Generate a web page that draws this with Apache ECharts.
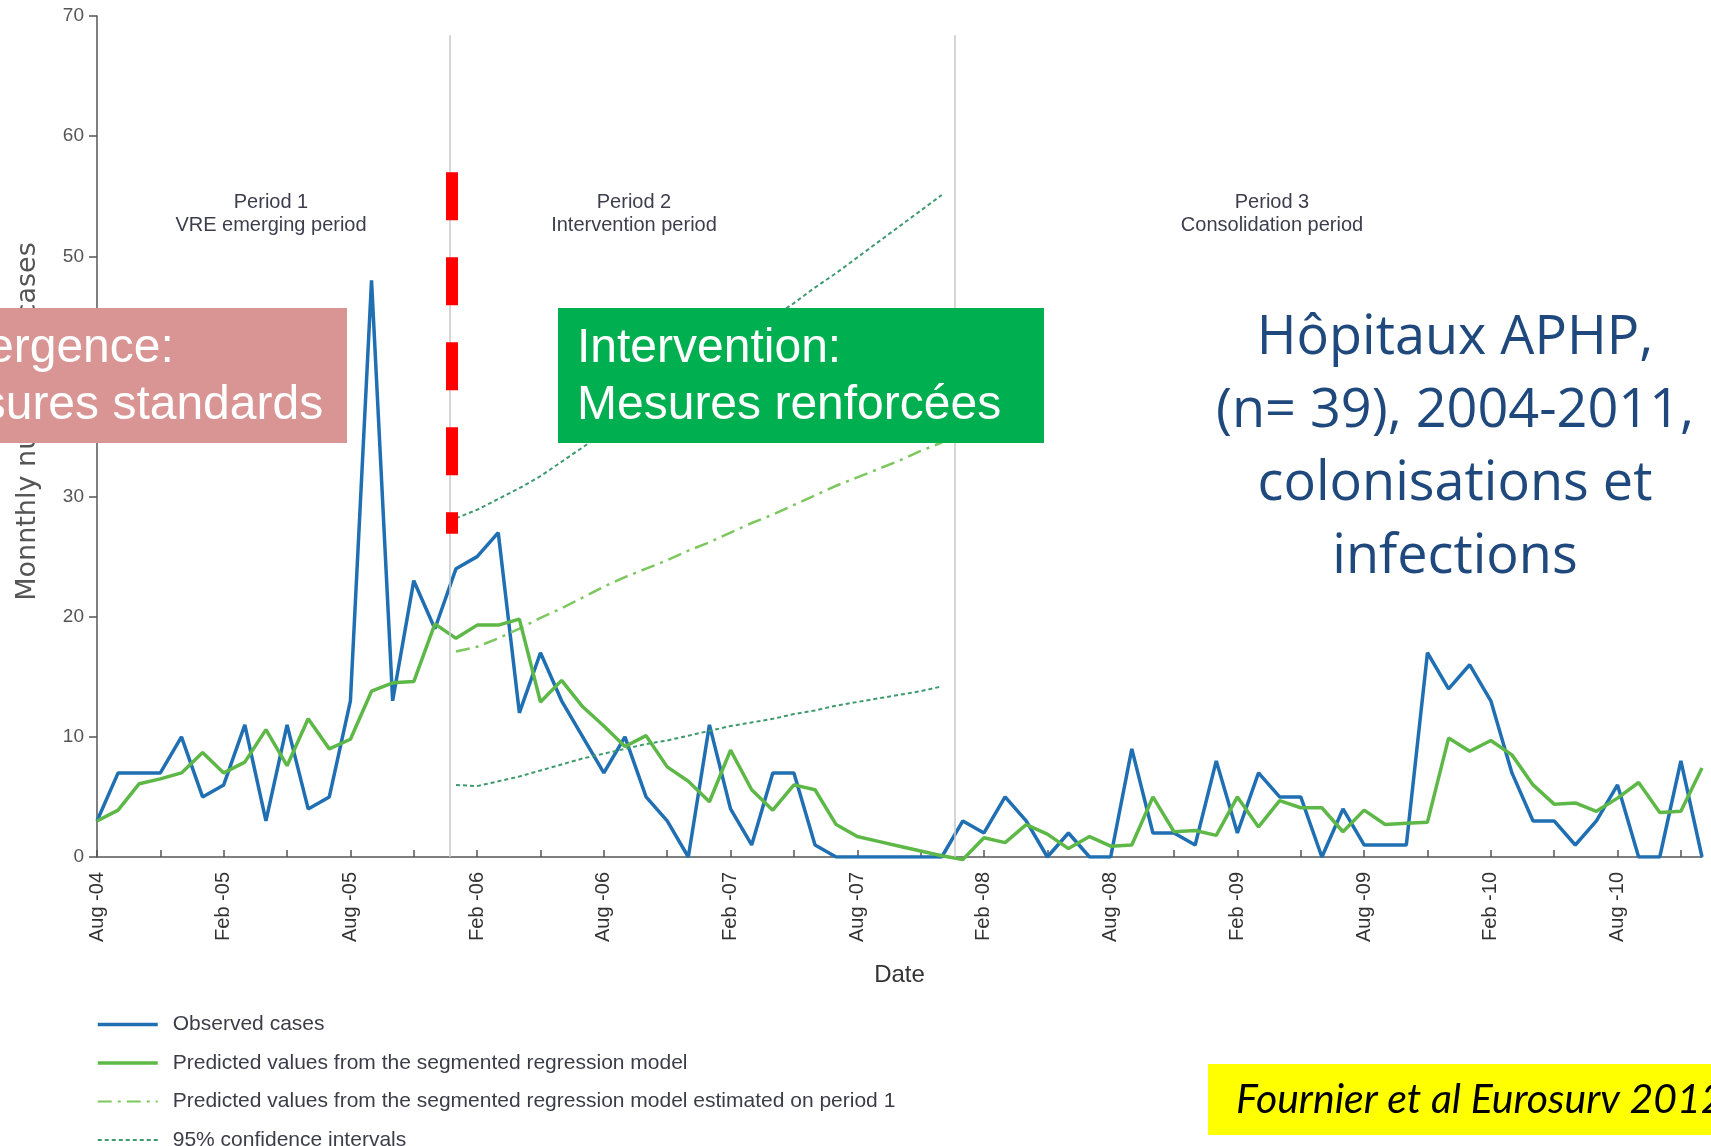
<!DOCTYPE html>
<html>
<head>
<meta charset="utf-8">
<title>VRE - Hôpitaux APHP 2004-2011</title>
<script src="https://cdn.jsdelivr.net/npm/echarts@6/dist/echarts.min.js"></script>
<style>
html, body { margin: 0; padding: 0; background: #fff; }
#chart { width: 1711px; height: 1146px; }
</style>
</head>
<body>
<div id="chart"></div>
<script>
// monthly values, index 0 = Aug-04 ... 76 = Dec-10
var observed = [3, 7, 7, 7, 10, 5, 6, 11, 3, 11, 4, 5, 13, 48, 13, 23, 19, 24, 25, 27,
    12, 17, 13, 10, 7, 10, 5, 3, 0, 11, 4, 1, 7, 7, 1, 0, 0, 0, 0, 0,
    0, 3, 2, 5, 3, 0, 2, 0, 0, 9, 2, 2, 1, 8, 2, 7, 5, 5, 0, 4,
    1, 1, 1, 17, 14, 16, 13, 7, 3, 3, 1, 3, 6, 0, 0, 8, 0];

var predicted = [3.0, 3.9, 6.1, 6.5, 7.0, 8.7, 7.0, 7.9, 10.6, 7.6, 11.5, 9.0, 9.8, 13.8, 14.5, 14.6, 19.4, 18.2, 19.3, 19.3,
    19.8, 12.9, 14.7, 12.5, 10.9, 9.2, 10.1, 7.5, 6.3, 4.6, 8.9, 5.6, 3.9, 6.0, 5.6, 2.7, 1.7, 1.3, 0.9, 0.5,
    0.1, -0.2, 1.6, 1.2, 2.7, 1.9, 0.7, 1.7, 0.9, 1.0, 5.0, 2.1, 2.2, 1.8, 5.0, 2.5, 4.7, 4.1, 4.1, 2.1,
    3.9, 2.7, 2.8, 2.9, 9.9, 8.8, 9.7, 8.5, 6.0, 4.4, 4.5, 3.8, 4.9, 6.2, 3.7, 3.8, 7.4];

// period 2 only (Jan-06 .. Dec-07), starting at month index 17
var period2Start = 17;
var predictedP1 = [17.1, 17.5, 18.2, 19.0, 19.9, 20.7, 21.6, 22.5, 23.3, 24.0, 24.7, 25.5,
    26.2, 27.0, 27.8, 28.5, 29.3, 30.1, 30.9, 31.6, 32.3, 33.0, 33.8, 34.5];
var ciUpper = [28.2, 28.9, 29.8, 30.7, 31.7, 32.9, 34.1, 35.3, 36.5, 37.7, 38.9, 40.1,
    41.3, 42.5, 43.7, 44.9, 46.1, 47.4, 48.6, 49.9, 51.2, 52.5, 53.8, 55.1];
var ciLower = [6.0, 5.9, 6.3, 6.7, 7.2, 7.7, 8.2, 8.6, 9.0, 9.4, 9.7, 10.1,
    10.5, 10.9, 11.2, 11.5, 11.9, 12.2, 12.6, 12.9, 13.2, 13.5, 13.8, 14.2];

var tickLabels = ['Aug -04', 'Feb -05', 'Aug -05', 'Feb -06', 'Aug -06', 'Feb -07', 'Aug -07',
    'Feb -08', 'Aug -08', 'Feb -09', 'Aug -09', 'Feb -10', 'Aug -10'];
var labelMonths = [0, 6, 12, 18, 24, 30, 36, 42, 48, 54, 60, 66, 72];
var tickMonths = [0, 3, 6, 9, 12, 15, 18, 21, 24, 27, 30, 33, 36, 39, 42, 45, 48, 51, 54, 57, 60, 63, 66, 69, 72, 75];

var periodBreaks = [16.7, 40.6];
var periodTitles = ['Period 1\nVRE emerging period', 'Period 2\nIntervention period', 'Period 3\nConsolidation period'];

var names = ['Observed cases',
    'Predicted values from the segmented regression model',
    'Predicted values from the segmented regression model estimated on period 1',
    '95% confidence intervals'];

function toPairs(values, start) {
    return values.map(function (v, k) { return [start + k, v]; });
}

var font = '"Liberation Sans", Arial, sans-serif';
var chart = echarts.init(document.getElementById('chart'));

var option = {
    animation: false,
    backgroundColor: '#fff',
    grid: { left: 97, right: 9, top: 16, bottom: 289, containLabel: false, outerBoundsMode: 'none' },
    legend: {
        orient: 'vertical', left: 96, top: 1014, height: 140, padding: 0,
        itemWidth: 60, itemHeight: 20, itemGap: 17.5,
        itemStyle: { opacity: 0 },
        textStyle: { fontSize: 21, color: '#3c3c48', fontFamily: font, lineHeight: 20, padding: [0, 0, 0, 10] },
        data: [
            { name: names[0], lineStyle: { width: 3.5 } },
            { name: names[1], lineStyle: { width: 3.5 } },
            { name: names[2], lineStyle: { width: 2 } },
            { name: names[3], lineStyle: { width: 2 } }
        ]
    },
    xAxis: {
        type: 'value', min: 0, max: 76,
        name: 'Date', nameLocation: 'middle', nameGap: 106,
        nameTextStyle: { fontSize: 24, color: '#333', fontFamily: font },
        axisLine: { show: true, lineStyle: { color: '#555', width: 1.5 } },
        axisTick: { show: true, inside: true, length: 7, customValues: tickMonths, lineStyle: { color: '#555', width: 1.5 } },
        axisLabel: {
            customValues: labelMonths, rotate: 90, margin: 15, fontSize: 20, color: '#333', fontFamily: font,
            formatter: function (v) { var k = labelMonths.indexOf(v); return k >= 0 ? tickLabels[k] : ''; }
        },
        splitLine: { show: false }
    },
    yAxis: {
        type: 'value', min: 0, max: 70, interval: 10,
        name: 'Monnthly number of cases', nameLocation: 'middle', nameRotate: 90, nameGap: 56,
        nameTextStyle: { fontSize: 27, color: '#555', fontFamily: '"DejaVu Sans", sans-serif', padding: [0, 0, 0, 30] },
        axisLine: { show: true, lineStyle: { color: '#555', width: 1.5 } },
        axisTick: { show: true, length: 8, lineStyle: { color: '#555', width: 1.5 } },
        axisLabel: { margin: 13, fontSize: 19, color: '#555', fontFamily: font },
        splitLine: { show: false }
    },
    series: [
        {
            name: names[0], type: 'line', data: toPairs(observed, 0), symbol: 'none',
            lineStyle: { color: '#1f6fb2', width: 3.5 }, itemStyle: { color: '#1f6fb2' }, z: 3,
            markLine: {
                silent: true, symbol: 'none', label: { show: false }, animation: false,
                data: [
                    [{ coord: [periodBreaks[0], 68.4], lineStyle: { color: '#c8c8c8', width: 1.5, type: 'solid' } }, { coord: [periodBreaks[0], 0] }],
                    [{ coord: [periodBreaks[1], 68.4], lineStyle: { color: '#c8c8c8', width: 1.5, type: 'solid' } }, { coord: [periodBreaks[1], 0] }],
                    [{ coord: [16.8, 57.0], lineStyle: { color: '#ff0000', width: 12, type: [48, 37], cap: 'butt' } }, { coord: [16.8, 26.9] }]
                ]
            }
        },
        {
            name: names[1], type: 'line', data: toPairs(predicted, 0), symbol: 'none', clip: false,
            lineStyle: { color: '#5db847', width: 3.5 }, itemStyle: { color: '#5db847' }, z: 4
        },
        {
            name: names[2], type: 'line', data: toPairs(predictedP1, period2Start), symbol: 'none',
            lineStyle: { color: '#7cc85e', width: 2.5, type: [14, 6, 3, 6] }, itemStyle: { color: '#7cc85e' }
        },
        {
            name: names[3], type: 'line', data: toPairs(ciUpper, period2Start), symbol: 'none',
            lineStyle: { color: '#3f9b6e', width: 2, type: [4, 3] }, itemStyle: { color: '#3f9b6e' }
        },
        {
            name: names[3], type: 'line', data: toPairs(ciLower, period2Start), symbol: 'none',
            lineStyle: { color: '#3f9b6e', width: 2, type: [4, 3] }, itemStyle: { color: '#3f9b6e' }
        }
    ],
    graphic: [
        { type: 'text', x: 271, y: 214, z: 50, style: { text: periodTitles[0], fill: '#3d3d4d', fontSize: 20, fontFamily: font, align: 'center', verticalAlign: 'middle', lineHeight: 23 } },
        { type: 'text', x: 634, y: 214, z: 50, style: { text: periodTitles[1], fill: '#3d3d4d', fontSize: 20, fontFamily: font, align: 'center', verticalAlign: 'middle', lineHeight: 23 } },
        { type: 'text', x: 1272, y: 214, z: 50, style: { text: periodTitles[2], fill: '#3d3d4d', fontSize: 20, fontFamily: font, align: 'center', verticalAlign: 'middle', lineHeight: 23 } },

        { type: 'rect', z: 100, shape: { x: -110, y: 308, width: 457, height: 135 }, style: { fill: '#d99594' } },
        { type: 'text', z: 101, x: -85, y: 377, style: { text: 'Emergence:\nMesures standards', fill: '#fff', fontSize: 48, fontFamily: font, verticalAlign: 'middle', lineHeight: 57 } },

        { type: 'rect', z: 100, shape: { x: 558, y: 308, width: 486, height: 135 }, style: { fill: '#00b050' } },
        { type: 'text', z: 101, x: 577, y: 377, style: { text: 'Intervention:\nMesures renforcées', fill: '#fff', fontSize: 48, fontFamily: font, verticalAlign: 'middle', lineHeight: 57 } },

        { type: 'text', z: 101, x: 1455, y: 448, style: { text: 'Hôpitaux APHP,\n(n= 39), 2004-2011,\ncolonisations et\ninfections', fill: '#1f497d', fontSize: 54, fontFamily: '"Open Sans", "Noto Sans", sans-serif', align: 'center', verticalAlign: 'middle', lineHeight: 73 } },

        { type: 'rect', z: 100, shape: { x: 1208, y: 1064, width: 520, height: 71 }, style: { fill: '#ffff00' } },
        { type: 'text', z: 101, x: 1236, y: 1100, style: { text: 'Fournier et al Eurosurv 2012', fill: '#000', fontSize: 41, fontStyle: 'italic', fontFamily: 'Lato, "Open Sans", sans-serif', verticalAlign: 'middle' } }
    ]
};

chart.setOption(option);
</script>
</body>
</html>
